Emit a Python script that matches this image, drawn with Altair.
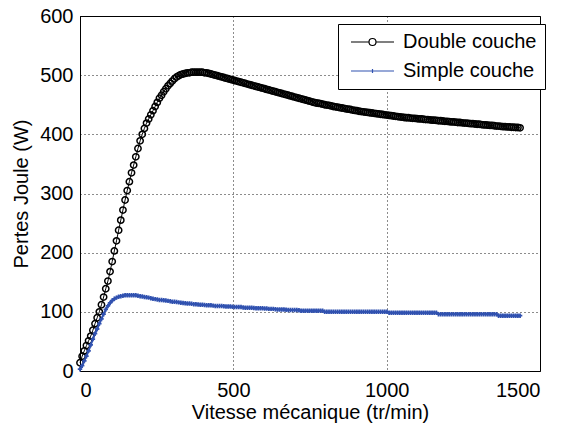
import altair as alt
import pandas as pd

vitesse = list(range(0, 1436, 7))

double_couche = [
    14, 25, 34, 43, 51, 59, 69, 80, 90, 100,
    112, 125, 139, 152, 168, 185, 203, 220, 238, 255,
    272, 289, 305, 320, 335, 348, 362, 376, 389, 400,
    410, 419, 426, 433, 440, 447, 454, 461, 466, 472,
    477, 482, 486, 490, 494, 497, 499, 501, 502, 503,
    504, 504, 505, 505, 505, 505, 505, 505, 504, 504,
    503, 502, 501, 500, 499, 498, 497, 496, 495, 494,
    493, 492, 491, 490, 489, 488, 487, 486, 485, 484,
    483, 482, 481, 480, 479, 478, 477, 476, 475, 474,
    473, 472, 471, 470, 469, 468, 467, 466, 465, 464,
    463, 462, 461, 460, 459, 458, 457, 456, 455, 454,
    453, 452.5, 452, 451, 450, 449.5, 449, 448, 447, 446.5,
    446, 445, 444.5, 444, 443, 442.5, 442, 441, 440.5, 440,
    439, 438.5, 438, 437.5, 437, 436.5, 436, 435.5, 435, 434.5,
    434, 433.5, 433, 432.5, 432, 431.5, 431, 430.5, 430, 429.5,
    429, 428.5, 428, 428, 427.5, 427, 427, 426.5, 426, 426,
    425.5, 425, 425, 424.5, 424, 424, 423.5, 423, 423, 422.5,
    422, 422, 421.5, 421, 421, 420.5, 420, 420, 419.5, 419,
    419, 418.5, 418, 418, 417.5, 417, 417, 416.5, 416, 416,
    415.5, 415, 415, 414.5, 414, 414, 413.5, 413, 413, 412.5,
    412.5, 412, 412, 411.5, 411.5, 411,
]

simple_couche = [
    3, 9, 17, 25, 34, 44, 54, 63, 71, 80,
    88, 96, 104, 110, 115, 119, 122, 124, 125.5, 126.5,
    127, 128, 128, 128, 128, 128, 128, 127, 126.5, 126,
    125, 124.5, 124, 123, 122, 121.5, 121, 120, 120, 119.5,
    119, 118.5, 118, 117, 117, 116.5, 116, 115.5, 115, 114.5,
    114, 114, 113.5, 113, 113, 112.5, 112, 112, 111.5, 111,
    111, 111, 110.5, 110, 110, 110, 110, 109.5, 109, 109,
    109, 108.5, 108, 108, 108, 108, 107.5, 107, 107, 107,
    107, 106.5, 106, 106, 106, 106, 105.5, 105.5, 105, 105,
    105, 104.5, 104, 104, 104, 104, 103.5, 103, 103, 103,
    103, 103, 102.5, 102, 102, 102, 102, 102, 102, 102,
    102, 102, 102, 102, 100, 100, 100, 100, 100, 100,
    100, 100, 100, 100, 100, 100, 100, 100, 100, 100,
    100, 100, 100, 100, 100, 100, 100, 100, 100, 100,
    100, 100, 100, 100, 98.5, 98.5, 98.5, 98.5, 98.5, 98.5,
    98.5, 98.5, 98.5, 98.5, 98.5, 98.5, 98.5, 98.5, 98.5, 98.5,
    98.5, 98.5, 98.5, 98.5, 98.5, 98.5, 98.5, 96, 96, 96,
    96, 96, 96, 96, 96, 96, 96, 96, 96, 96,
    96, 96, 96, 96, 96, 96, 96, 96, 96, 96,
    96, 96, 96, 96, 96, 93.5, 93.5, 93.5, 93.5, 93.5,
    93.5, 93.5, 93.5, 93.5, 93.5, 93.5,
]

series_names = ["Double couche", "Simple couche"]
series_colors = ["#000000", "#3152b0"]

df_d = pd.DataFrame({"vitesse": vitesse, "pertes": double_couche, "serie": series_names[0]})
df_s = pd.DataFrame({"vitesse": vitesse, "pertes": simple_couche, "serie": series_names[1]})
df = pd.concat([df_d, df_s], ignore_index=True)

font = "Liberation Sans"

x_enc = alt.X("vitesse:Q", scale=alt.Scale(domain=[0, 1500], nice=False),
              axis=alt.Axis(values=[0, 500, 1000, 1500], format="d",
                            title="Vitesse mécanique (tr/min)",
                            labelPadding=9, titlePadding=2))
y_enc = alt.Y("pertes:Q", scale=alt.Scale(domain=[0, 600], nice=False),
              axis=alt.Axis(values=[0, 100, 200, 300, 400, 500, 600], format="d",
                            title="Pertes Joule (W)",
                            labelPadding=7, titlePadding=8))

line_d = alt.Chart(df_d).mark_line(color=series_colors[0], strokeWidth=1).encode(x=x_enc, y=y_enc)
pts_d = alt.Chart(df_d).mark_point(shape="circle", filled=False, color=series_colors[0],
                                   size=40, strokeWidth=1.5, opacity=1).encode(x="vitesse:Q", y="pertes:Q")
line_s = alt.Chart(df_s).mark_line(color=series_colors[1], strokeWidth=2).encode(x="vitesse:Q", y="pertes:Q")
pts_s = alt.Chart(df_s).mark_point(shape="cross", filled=True, color=series_colors[1],
                                   size=20, opacity=1).encode(x="vitesse:Q", y="pertes:Q")

# legend symbols: line segment with the series marker (unit = 5 px)
path_d = "M-1,0H2.6M4,0H7.6M2.6,0A0.7,0.7,0,1,0,4,0A0.7,0.7,0,1,0,2.6,0"
path_s = "M-1,0H7.6M2.9,0H3.7M3.3,-0.4V0.4"

legend_layer = alt.Chart(df).transform_filter("false").mark_point(
    filled=False, size=100, strokeWidth=1.2, opacity=1
).encode(
    x="vitesse:Q", y="pertes:Q",
    color=alt.Color("serie:N", scale=alt.Scale(domain=series_names, range=series_colors),
                    legend=alt.Legend(title=None)),
    shape=alt.Shape("serie:N", scale=alt.Scale(domain=series_names, range=[path_d, path_s]),
                    legend=alt.Legend(title=None)),
)

chart = alt.layer(line_d, pts_d, line_s, pts_s, legend_layer).properties(
    width=460, height=355,
    autosize=alt.AutoSizeParams(type="none"),
    padding={"left": 72, "top": 8, "right": 26, "bottom": 55},
).configure_view(
    stroke="black", strokeWidth=1
).configure_axis(
    labelFont=font, titleFont=font, labelFontSize=20, titleFontSize=20,
    labelColor="black", titleColor="black", titleFontWeight="normal",
    domainColor="black", domainWidth=1, ticks=False,
    grid=True, gridColor="black", gridDash=[1, 3], gridOpacity=0.9, gridWidth=1,
).configure_legend(
    orient="none", legendX=258, legendY=8,
    strokeColor="black", fillColor="white", padding=8,
    labelFont=font, labelFontSize=20, labelColor="black",
    symbolSize=100, symbolStrokeWidth=1.2, labelOffset=37, rowPadding=9,
)

chart.save("out.html", embed_options={"renderer": "svg", "actions": False})
